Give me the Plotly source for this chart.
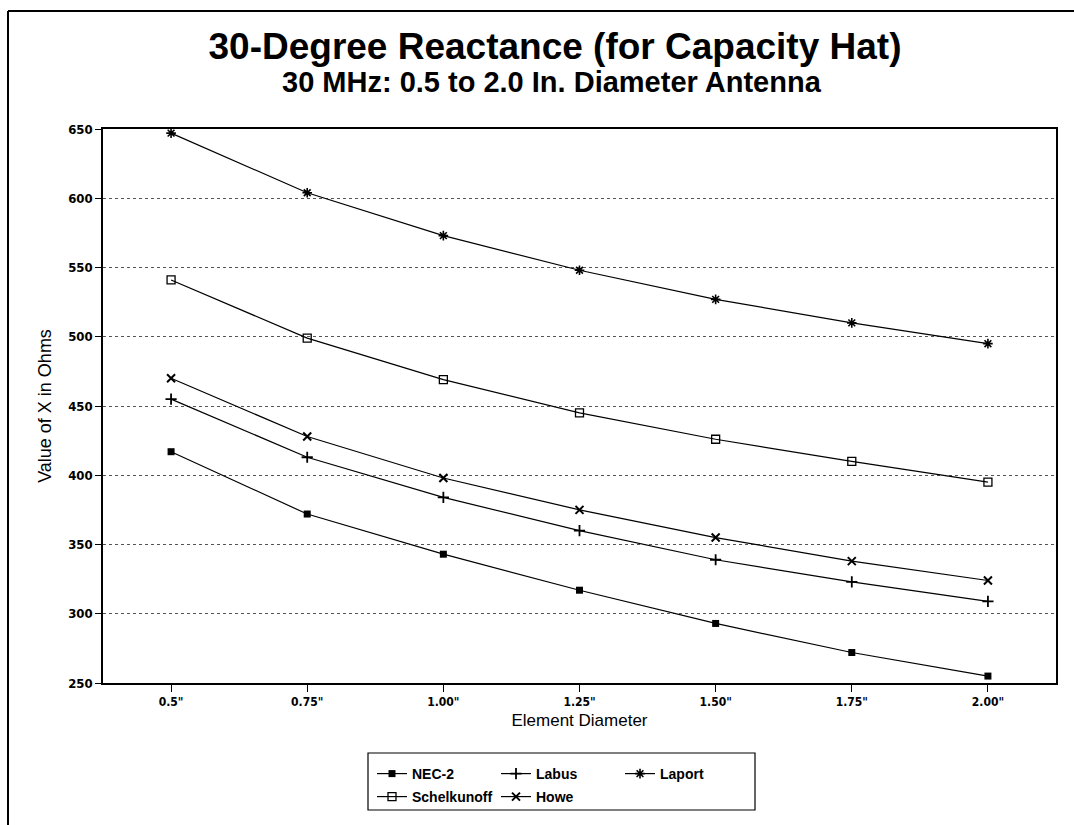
import plotly.graph_objects as go

# Element diameters (x categories)
diameters = ['0.5"', '0.75"', '1.00"', '1.25"', '1.50"', '1.75"', '2.00"']

# Reactance X (ohms) for each calculation method
nec2 = [417, 372, 343, 317, 293, 272, 255]
labus = [455, 413, 384, 360, 339, 323, 309]
laport = [647, 604, 573, 548, 527, 510, 495]
schelkunoff = [541, 499, 469, 445, 426, 410, 395]
howe = [470, 428, 398, 375, 355, 338, 324]

y_ticks = [250, 300, 350, 400, 450, 500, 550, 600, 650]

SANS = "Liberation Sans, Arial, Helvetica, sans-serif"
NARROW = "Liberation Sans Narrow, Arial Narrow, DejaVu Sans Condensed, Liberation Sans, Arial, sans-serif"

series = [
    ("NEC-2", nec2, dict(symbol="square", size=7, color="black"), "legend"),
    ("Labus", labus, dict(symbol="cross-thin-open", size=8, color="black",
                          line=dict(width=1.8, color="black")), "legend"),
    ("Laport", laport, dict(symbol="asterisk-open", size=8, color="black",
                            line=dict(width=1.6, color="black")), "legend"),
    ("Schelkunoff", schelkunoff, dict(symbol="square-open", size=8, color="black",
                                      line=dict(width=1.3, color="black")), "legend2"),
    ("Howe", howe, dict(symbol="x-thin-open", size=8, color="black",
                        line=dict(width=2, color="black")), "legend2"),
]

fig = go.Figure()
for name, vals, marker, leg in series:
    fig.add_trace(go.Scatter(
        x=diameters, y=vals, name=name, mode="lines+markers",
        line=dict(color="black", width=1.2),
        marker=marker, legend=leg,
    ))

legend_common = dict(
    orientation="h", xref="container", yref="container",
    xanchor="left", yanchor="top",
    entrywidth=79, entrywidthmode="pixels", itemwidth=30,
    bgcolor="rgba(0,0,0,0)", borderwidth=0,
    font=dict(family=SANS, size=14, color="black", weight="bold"),
    traceorder="normal",
)

fig.update_layout(
    width=1074, height=825,
    paper_bgcolor="white", plot_bgcolor="white",
    margin=dict(l=103, r=18, t=129, b=142, autoexpand=False),
    font=dict(family=SANS, color="black"),
    title=dict(
        text="<b>30-Degree Reactance (for Capacity Hat)</b>",
        font=dict(family=SANS, size=37, color="black"),
        x=555 / 1074, xref="container", xanchor="center",
        y=1 - 46 / 825, yref="container", yanchor="middle",
    ),
    legend=dict(legend_common, x=372 / 1074, y=1 - 758 / 825),
    legend2=dict(legend_common, x=372 / 1074, y=1 - 781 / 825),
    showlegend=True,
)

fig.update_xaxes(
    type="category", range=[-0.5, len(diameters) - 0.5],
    showgrid=False, showline=True, mirror=True, linecolor="black", linewidth=1.5,
    ticks="outside", ticklen=7, tickcolor="black", tickwidth=1.2,
    tickfont=dict(family=NARROW, size=12, color="black", weight="bold"),
    title=dict(text="Element Diameter", font=dict(family=SANS, size=17, color="black"),
               standoff=6),
    zeroline=False, automargin=False,
)
fig.update_yaxes(
    range=[250, 650], tickvals=y_ticks, ticktext=[str(v) for v in y_ticks],
    showgrid=True, gridcolor="#555555", gridwidth=1, griddash="dot",
    showline=True, mirror=True, linecolor="black", linewidth=1.5,
    ticks="outside", ticklen=6, tickcolor="black", tickwidth=1.2,
    tickfont=dict(family=NARROW, size=13, color="black", weight="bold"),
    title=dict(text="Value of X in Ohms", font=dict(family=SANS, size=18, color="black"),
               standoff=12),
    zeroline=False, automargin=False,
)

# Subtitle line
fig.add_annotation(
    text="<b>30 MHz: 0.5 to 2.0 In. Diameter Antenna</b>",
    xref="paper", yref="paper", x=(552 - 103) / 953, y=(683 - 82) / 554,
    xanchor="center", yanchor="middle", showarrow=False,
    font=dict(family=SANS, size=29, color="black"),
)

# Page frame (left and top edges) and legend box
px = lambda v: (v - 103) / 953
py = lambda v: (683 - v) / 554
fig.add_shape(type="line", xref="paper", yref="paper",
              x0=px(8), x1=px(8), y0=py(11), y1=py(826),
              line=dict(color="black", width=2))
fig.add_shape(type="line", xref="paper", yref="paper",
              x0=px(8), x1=px(1075), y0=py(11), y1=py(11),
              line=dict(color="black", width=2))
fig.add_shape(type="rect", xref="paper", yref="paper",
              x0=px(368), x1=px(755), y0=py(753), y1=py(810),
              line=dict(color="black", width=1.2))

fig.write_html("out.html")
